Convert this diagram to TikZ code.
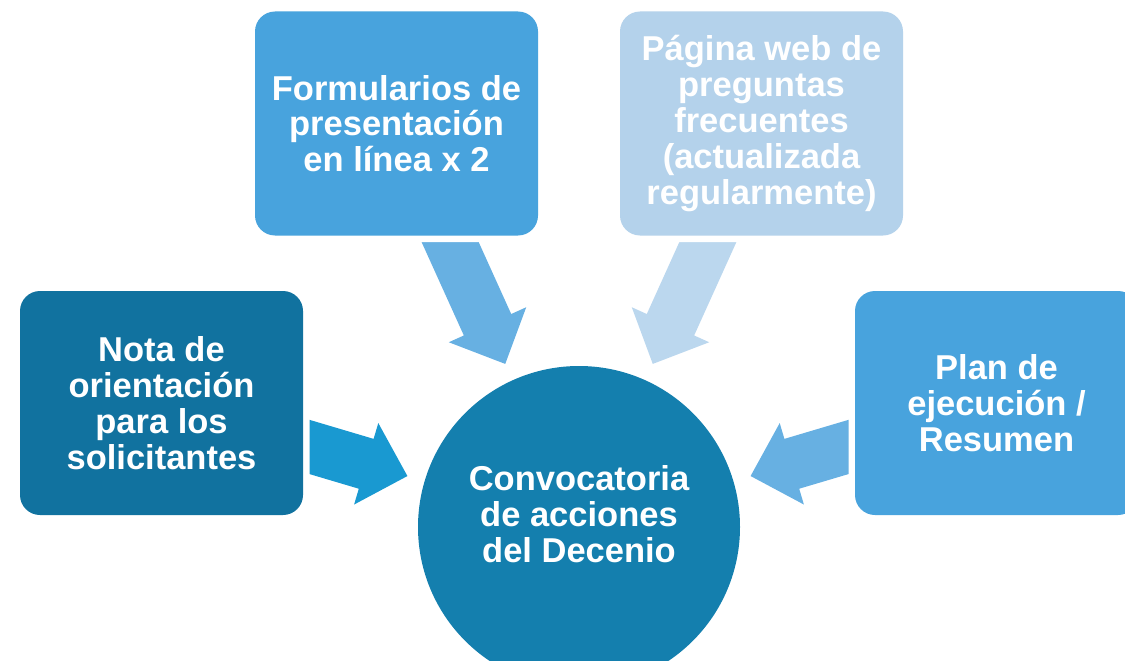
\documentclass[tikz,border=0pt]{standalone}
\usepackage{fontspec}
\setmainfont{Liberation Sans}
\usetikzlibrary{calc,backgrounds}

\definecolor{decadedark}{RGB}{17,114,159}
\definecolor{decadehub}{RGB}{20,127,174}
\definecolor{decademid}{RGB}{72,163,221}
\definecolor{decadepale}{RGB}{180,210,235}
\definecolor{arrowstrong}{RGB}{25,153,209}
\definecolor{arrowmid}{RGB}{103,176,226}
\definecolor{arrowpale}{RGB}{187,215,238}

% block arrow from the centre of #1 towards the hub, colour #2
\newcommand\spokearrow[2]{%
  \coordinate (tip) at ($(conv)!179pt!(#1.center)$);
  \coordinate (neck) at ($(tip)!43pt!(#1.center)$);
  \fill[#2] ($(#1.center)!26pt!90:(tip)$) -- ($(neck)!26pt!90:(tip)$)
    -- ($(neck)!42.5pt!90:(tip)$) -- (tip)
    -- ($(neck)!42.5pt!-90:(tip)$) -- ($(neck)!26pt!-90:(tip)$)
    -- ($(#1.center)!26pt!-90:(tip)$) -- cycle;}

\begin{document}
\begin{tikzpicture}[x=1pt,y=-1pt,
    font=\fontsize{34.5}{35.8}\selectfont\bfseries,
    panel/.style={rounded corners=20pt,align=center,text=white,
      minimum width=283pt,minimum height=224pt,inner sep=0pt,
      preaction={draw=white,line width=13pt}},
    hub/.style={circle,fill=decadehub,minimum size=322pt,inner sep=0pt}]
  \useasboundingbox (0,0) rectangle (1125,661);
  \node[panel,fill=decadedark] (nota) at (161.5,403)
    {Nota de\\orientación\\para los\\solicitantes};
  \node[panel,fill=decademid] (form) at (396.5,123.5)
    {Formularios de\\presentación\\en línea x 2};
  \node[panel,fill=decadepale] (web) at (761.5,123.5)
    {Página web de\\preguntas\\frecuentes\\(actualizada\\regularmente)};
  \node[panel,fill=decademid] (plan) at (996.5,403)
    {Plan de\\ejecución /\\Resumen};
  \node[hub] (conv) at (579,527) {};
  \node[text=white,align=center] (convtext) at (579,514)
    {Convocatoria\\de acciones\\del Decenio};
  \begin{scope}[on background layer]
    \spokearrow{nota}{arrowstrong}
    \spokearrow{form}{arrowmid}
    \spokearrow{web}{arrowpale}
    \spokearrow{plan}{arrowmid}
  \end{scope}
\end{tikzpicture}
\end{document}
